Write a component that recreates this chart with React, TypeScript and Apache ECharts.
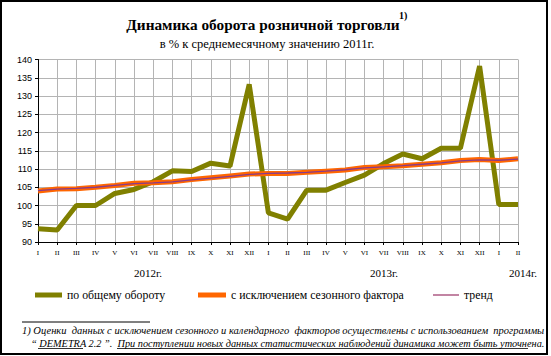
import React, { useEffect, useRef } from "react";
import * as echarts from "echarts";

const months = ["I","II","III","IV","V","VI","VII","VIII","IX","X","XI","XII","I","II","III","IV","V","VI","VII","VIII","IX","X","XI","XII","I","II"];
const totalTurnover = [93.6, 93.3, 100.0, 100.0, 103.3, 104.4, 106.5, 109.5, 109.3, 111.6, 110.8, 133.2, 98.0, 96.3, 104.2, 104.2, 106.3, 108.3, 111.5, 114.1, 112.8, 115.7, 115.7, 138.2, 100.3, 100.3];
const seasonallyAdjusted = [104.0, 104.5, 104.6, 105.0, 105.5, 106.1, 106.2, 106.5, 107.1, 107.6, 108.1, 108.6, 108.8, 108.8, 109.1, 109.4, 109.7, 110.4, 110.6, 110.9, 111.3, 111.7, 112.3, 112.6, 112.3, 112.8];
const trend = [104.1, 104.5, 104.7, 105.0, 105.5, 106.0, 106.2, 106.5, 107.0, 107.5, 108.0, 108.5, 108.8, 108.9, 109.1, 109.4, 109.8, 110.3, 110.6, 110.9, 111.3, 111.7, 112.2, 112.5, 112.4, 112.7];
const yearLabels = ["2012г.", "2013г.", "2014г."];
const seriesNames = ["по общему обороту", "с исключением сезонного фактора", "тренд"];
const titleText = "Динамика оборота розничной торговли";
const subtitleText = "в % к среднемесячному значению 2011г.";
const footnote1 = "1) Оценки  данных с исключением сезонного и календарного  факторов осуществлены с использованием  программы";
const footnote2 = "“ DEMETRA 2.2 ”.  При поступлении новых данных статистических наблюдений динамика может быть уточнена.";

const SERIF = "'Liberation Serif', 'Times New Roman', serif";
const SANS = "'Liberation Sans', Arial, sans-serif";

export default function App() {
  const ref = useRef<HTMLDivElement>(null);
  useEffect(() => {
    document.body.style.margin = "0";
    const chart = echarts.init(ref.current!, null, { renderer: "svg" });
    const yearX = [148, 384, 523];
    chart.setOption({
      animation: false,
      backgroundColor: "#ffffff",
      grid: { left: 38, top: 59.5, width: 480, height: 182.5, containLabel: false },
      xAxis: {
        type: "category",
        data: months,
        boundaryGap: false,
        axisLine: { lineStyle: { color: "#000", width: 1 } },
        axisTick: { show: true, length: 3, interval: 0, lineStyle: { color: "#000" } },
        axisLabel: { interval: 0, fontFamily: SERIF, fontSize: 7, color: "#000", margin: 7 },
        splitLine: { show: true, interval: 0, lineStyle: { color: "#b4b4b4", width: 1 } },
      },
      yAxis: {
        type: "value",
        min: 90,
        max: 140,
        interval: 5,
        axisLine: { show: true, lineStyle: { color: "#000", width: 1 } },
        axisTick: { show: true, length: 3, lineStyle: { color: "#000" } },
        axisLabel: { fontFamily: SANS, fontSize: 9, color: "#000", margin: 6 },
        splitLine: { show: true, lineStyle: { color: "#b4b4b4", width: 1 } },
      },
      legend: [
        { data: [seriesNames[0]], left: 30, top: 284, icon: "rect", itemWidth: 27, itemHeight: 5,
          textStyle: { fontFamily: SERIF, fontSize: 11.8, color: "#000" } },
        { data: [seriesNames[1]], left: 193, top: 284, icon: "rect", itemWidth: 28, itemHeight: 5,
          textStyle: { fontFamily: SERIF, fontSize: 11.8, color: "#000" } },
        { data: [seriesNames[2]], left: 428, top: 284, icon: "rect", itemWidth: 26, itemHeight: 1.2,
          textStyle: { fontFamily: SERIF, fontSize: 11.8, color: "#000" } },
      ],
      series: [
        { name: seriesNames[0], type: "line", data: totalTurnover, showSymbol: false, symbol: "none",
          lineStyle: { color: "#808000", width: 5 }, itemStyle: { color: "#808000" }, z: 2 },
        { name: seriesNames[1], type: "line", data: seasonallyAdjusted, showSymbol: false, symbol: "none",
          lineStyle: { color: "#ff6600", width: 5 }, itemStyle: { color: "#ff6600" }, z: 3 },
        { name: seriesNames[2], type: "line", data: trend, showSymbol: false, symbol: "none",
          lineStyle: { color: "#8a3a8a", width: 1.3 }, itemStyle: { color: "#993366" }, z: 4 },
      ],
      graphic: [
        { type: "rect", shape: { x: 1, y: 1, width: 546, height: 353 }, style: { fill: "none", stroke: "#000", lineWidth: 2 }, silent: true },
        { type: "text", x: 263, y: 24, style: { text: titleText, font: `bold 15.3px ${SERIF}`, fill: "#000", align: "center", verticalAlign: "middle" } },
        { type: "text", x: 399, y: 15, style: { text: "1)", font: `bold 10px ${SERIF}`, fill: "#000", align: "left", verticalAlign: "middle" } },
        { type: "text", x: 267, y: 44, style: { text: subtitleText, font: `12.5px ${SERIF}`, fill: "#000", align: "center", verticalAlign: "middle" } },
        ...yearLabels.map((t, i) => ({ type: "text", x: yearX[i], y: 273, style: { text: t, font: `11px ${SERIF}`, fill: "#000", align: "center", verticalAlign: "middle" } })),
        { type: "line", shape: { x1: 22, y1: 322, x2: 150, y2: 322 }, style: { stroke: "#000", lineWidth: 1 } },
        { type: "text", x: 22, y: 330, style: { text: footnote1, font: `italic 10.5px ${SERIF}`, fill: "#000", align: "left", verticalAlign: "middle" } },
        { type: "text", x: 31, y: 343, style: { text: footnote2, font: `italic 10.3px ${SERIF}`, fill: "#000", align: "left", verticalAlign: "middle" } },
        { type: "line", shape: { x1: 38, y1: 348.5, x2: 83, y2: 348.5 }, style: { stroke: "#000", lineWidth: 0.8 } },
        { type: "line", shape: { x1: 117, y1: 348.5, x2: 528, y2: 348.5 }, style: { stroke: "#000", lineWidth: 0.8 } },
      ],
    });
    return () => chart.dispose();
  }, []);
  return <div ref={ref} style={{ width: 551, height: 356 }} />;
}
